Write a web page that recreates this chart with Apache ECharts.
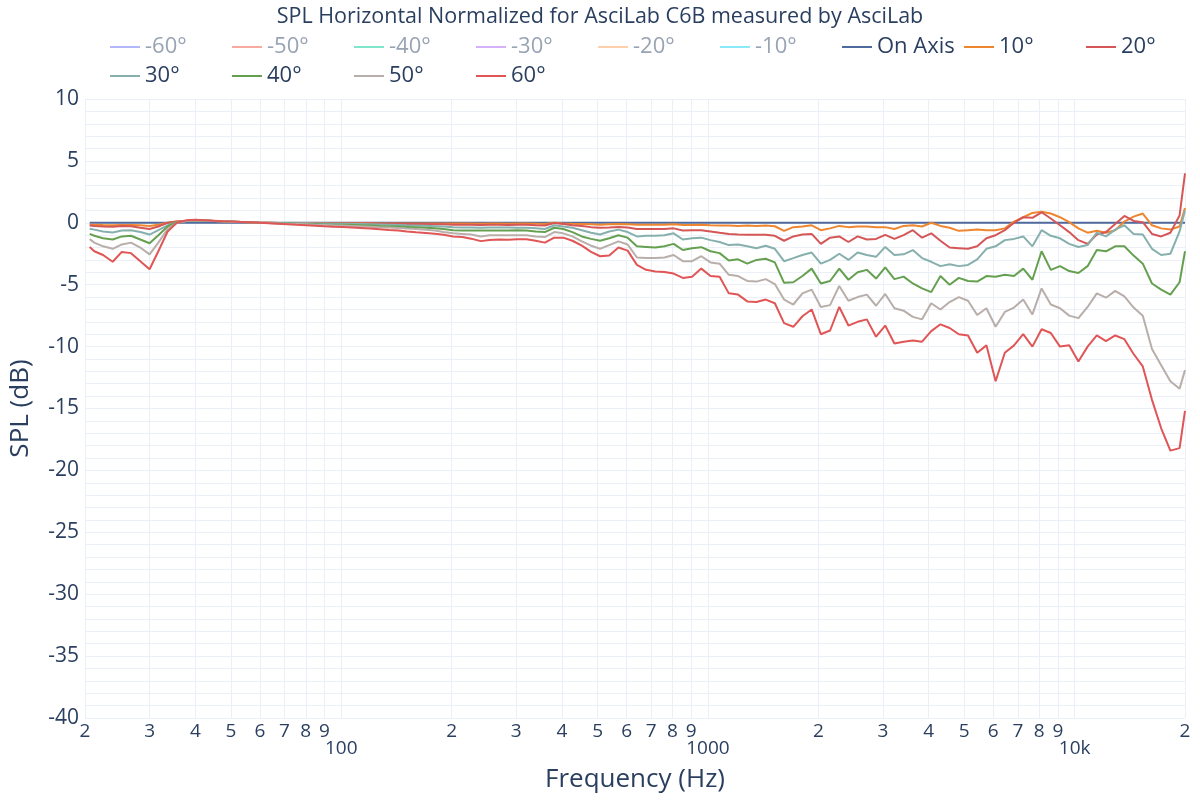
<!DOCTYPE html>
<html><head><meta charset="utf-8">
<script src="https://cdn.jsdelivr.net/npm/echarts@6/dist/echarts.min.js"></script>
<style>html,body{margin:0;padding:0;background:#fff}#c{width:1200px;height:800px}</style>
</head><body><div id="c"></div>
<script>
const freqs = [20.6, 21.2, 22.4, 23.8, 25.2, 26.7, 28.3, 30.0, 31.7, 33.6,
  35.6, 37.8, 40.0, 42.4, 44.9, 47.6, 50.4, 53.4, 56.6, 59.9,
  63.5, 67.3, 71.3, 75.5, 80.0, 84.8, 89.8, 95.1, 101, 107,
  113, 120, 127, 135, 143, 151, 160, 170, 180, 190,
  202, 214, 226, 240, 254, 269, 285, 302, 320, 339,
  359, 381, 403, 427, 453, 480, 508, 538, 570, 604,
  640, 678, 719, 761, 806, 854, 905, 959, 1016, 1076,
  1140, 1208, 1280, 1356, 1437, 1522, 1613, 1709, 1810, 1918,
  2032, 2153, 2281, 2416, 2560, 2712, 2874, 3044, 3225, 3417,
  3620, 3836, 4064, 4305, 4561, 4833, 5120, 5424, 5747, 6089,
  6451, 6834, 7241, 7671, 8127, 8611, 9123, 9665, 10240, 10849,
  11494, 12177, 12902, 13669, 14482, 15343, 16255, 17222, 18246, 19331,
  20000];

const splOnAxis = [0,0,0,0,0,0,0,0,0,0, 0,0,0,0,0,0,0,0,0,0, 0,0,0,0,0,0,0,0,0,0,
  0,0,0,0,0,0,0,0,0,0, 0,0,0,0,0,0,0,0,0,0, 0,0,0,0,0,0,0,0,0,0,
  0,0,0,0,0,0,0,0,0,0, 0,0,0,0,0,0,0,0,0,0, 0,0,0,0,0,0,0,0,0,0,
  0,0,0,0,0,0,0,0,0,0, 0,0,0,0,0,0,0,0,0,0, 0,0,0,0,0,0,0,0,0,0, 0];

const spl10 = [-0.15, -0.15, -0.18, -0.2, -0.17, -0.17, -0.2, -0.25, -0.15, 0.0,
  0.1, 0.15, 0.2, 0.18, 0.15, 0.12, 0.09, 0.06, 0.04, 0.01,
  0.0, -0.01, -0.01, -0.02, -0.02, -0.03, -0.03, -0.03, -0.04, -0.04,
  -0.04, -0.04, -0.05, -0.05, -0.05, -0.05, -0.05, -0.05, -0.05, -0.05,
  -0.05, -0.06, -0.06, -0.07, -0.06, -0.06, -0.07, -0.06, -0.06, -0.08,
  -0.1, 0.0, -0.05, -0.08, -0.1, -0.12, -0.15, -0.12, -0.1, -0.12,
  -0.15, -0.15, -0.15, -0.15, -0.12, -0.18, -0.18, -0.15, -0.2, -0.22,
  -0.22, -0.25, -0.22, -0.25, -0.22, -0.28, -0.65, -0.35, -0.3, -0.2,
  -0.6, -0.45, -0.25, -0.35, -0.3, -0.3, -0.35, -0.35, -0.5, -0.25,
  -0.2, -0.3, 0.0, -0.25, -0.4, -0.65, -0.6, -0.55, -0.6, -0.6,
  -0.45, 0.1, 0.45, 0.8, 0.9, 0.75, 0.45, 0.05, -0.45, -0.8,
  -0.65, -0.8, -0.6, 0.1, 0.5, 0.75, -0.2, -0.45, -0.55, -0.3,
  1.2];

const spl20 = [-0.22, -0.25, -0.3, -0.32, -0.25, -0.28, -0.4, -0.5, -0.3, 0.0,
  0.1, 0.15, 0.2, 0.18, 0.15, 0.12, 0.09, 0.06, 0.04, 0.01,
  0.0, -0.01, -0.02, -0.02, -0.03, -0.03, -0.04, -0.04, -0.05, -0.05,
  -0.06, -0.06, -0.07, -0.08, -0.08, -0.09, -0.1, -0.1, -0.11, -0.12,
  -0.15, -0.16, -0.16, -0.18, -0.16, -0.16, -0.17, -0.16, -0.16, -0.2,
  -0.22, -0.02, -0.1, -0.2, -0.25, -0.35, -0.4, -0.38, -0.33, -0.38,
  -0.5, -0.5, -0.5, -0.5, -0.45, -0.62, -0.6, -0.6, -0.7, -0.8,
  -0.9, -0.95, -0.97, -0.97, -0.97, -1.05, -1.45, -1.1, -0.95, -0.9,
  -1.7, -1.2, -1.1, -1.55, -1.1, -1.35, -1.3, -0.97, -1.3, -1.0,
  -0.6, -1.2, -0.85, -1.45, -2.0, -2.05, -2.1, -1.9, -1.25, -1.0,
  -0.6, 0.0, 0.45, 0.4, 0.85, 0.35, -0.2, -0.75, -1.4, -1.7,
  -0.95, -0.75, -0.1, 0.55, 0.15, 0.05, -0.9, -1.1, -0.8, 0.6,
  4.0];

const spl30 = [-0.48, -0.55, -0.7, -0.78, -0.62, -0.6, -0.75, -0.95, -0.6, -0.2,
  0.05, 0.15, 0.2, 0.18, 0.15, 0.12, 0.09, 0.06, 0.04, 0.01,
  0.0, -0.01, -0.02, -0.03, -0.04, -0.05, -0.06, -0.07, -0.08, -0.09,
  -0.1, -0.11, -0.13, -0.15, -0.17, -0.19, -0.21, -0.24, -0.27, -0.3,
  -0.35, -0.38, -0.38, -0.4, -0.38, -0.38, -0.38, -0.4, -0.4, -0.45,
  -0.5, -0.2, -0.3, -0.4, -0.6, -0.8, -0.95, -0.7, -0.55, -0.75,
  -1.1, -1.05, -1.05, -1.0, -0.85, -1.35, -1.25, -1.2, -1.4, -1.55,
  -1.8, -1.75, -1.9, -2.05, -1.85, -2.1, -3.1, -2.85, -2.6, -2.4,
  -3.3, -3.0, -2.5, -3.0, -2.4, -2.6, -2.75, -1.95, -2.6, -2.55,
  -2.2, -2.85, -3.15, -3.5, -3.35, -3.5, -3.4, -2.95, -2.1, -1.9,
  -1.4, -1.3, -1.1, -1.9, -0.6, -1.05, -1.25, -1.7, -1.95, -1.8,
  -0.8, -1.1, -0.55, -0.2, -0.9, -0.95, -2.1, -2.6, -2.5, -0.7,
  1.0];

const spl40 = [-0.9, -1.05, -1.25, -1.35, -1.1, -1.05, -1.35, -1.65, -1.0, -0.3,
  0.05, 0.15, 0.2, 0.18, 0.15, 0.12, 0.09, 0.06, 0.04, 0.01,
  -0.01, -0.03, -0.05, -0.07, -0.09, -0.11, -0.13, -0.15, -0.16, -0.18,
  -0.2, -0.22, -0.25, -0.27, -0.3, -0.33, -0.36, -0.4, -0.44, -0.5,
  -0.6, -0.62, -0.62, -0.62, -0.62, -0.62, -0.62, -0.6, -0.62, -0.7,
  -0.75, -0.4, -0.5, -0.75, -1.1, -1.3, -1.45, -1.25, -1.0, -1.2,
  -1.9, -1.95, -2.0, -1.9, -1.7, -2.2, -2.05, -1.97, -2.3, -2.45,
  -3.05, -2.95, -3.3, -3.0, -2.9, -3.2, -4.85, -4.8, -4.3, -3.7,
  -4.9, -4.7, -3.7, -4.6, -4.0, -3.8, -4.5, -3.6, -4.55, -4.35,
  -4.9, -5.3, -5.6, -4.3, -5.0, -4.45, -4.7, -4.75, -4.3, -4.35,
  -4.2, -4.3, -3.7, -4.6, -2.3, -3.8, -3.5, -3.9, -4.05, -3.5,
  -2.2, -2.3, -1.9, -1.9, -2.65, -3.3, -4.9, -5.4, -5.8, -4.8,
  -2.3];

const spl50 = [-1.32, -1.6, -1.9, -2.1, -1.75, -1.6, -2.0, -2.55, -1.6, -0.5,
  0.0, 0.15, 0.2, 0.18, 0.15, 0.12, 0.09, 0.06, 0.04, 0.01,
  -0.02, -0.05, -0.08, -0.1, -0.12, -0.15, -0.17, -0.2, -0.22, -0.25,
  -0.28, -0.31, -0.35, -0.38, -0.42, -0.46, -0.5, -0.56, -0.63, -0.75,
  -0.85, -0.9, -0.95, -1.1, -1.0, -1.0, -1.0, -1.0, -1.0, -1.1,
  -1.15, -0.75, -0.85, -1.1, -1.5, -1.85, -2.1, -1.8, -1.5, -1.75,
  -2.8, -2.85, -2.85, -2.8, -2.6, -3.1, -3.1, -2.7, -3.2, -3.3,
  -4.2, -4.3, -4.7, -4.75, -4.55, -4.95, -6.2, -6.6, -5.7, -5.4,
  -6.8, -6.65, -5.1, -6.3, -6.0, -5.8, -6.7, -5.75, -6.9, -7.1,
  -7.6, -7.8, -6.5, -7.0, -6.4, -6.0, -6.3, -7.45, -6.9, -8.4,
  -7.2, -6.85, -6.2, -7.4, -5.3, -6.6, -6.9, -7.5, -7.7, -6.8,
  -5.7, -6.05, -5.5, -5.95, -6.85, -7.5, -10.2, -11.5, -12.8, -13.4,
  -11.9];

const spl60 = [-1.96, -2.3, -2.6, -3.15, -2.35, -2.45, -3.1, -3.75, -2.3, -0.7,
  0.0, 0.2, 0.24, 0.2, 0.17, 0.13, 0.1, 0.07, 0.04, 0.0,
  -0.03, -0.07, -0.11, -0.16, -0.2, -0.24, -0.28, -0.31, -0.34, -0.38,
  -0.42, -0.47, -0.52, -0.58, -0.63, -0.7, -0.76, -0.82, -0.88, -0.97,
  -1.1, -1.15, -1.28, -1.48, -1.38, -1.34, -1.37, -1.32, -1.32, -1.45,
  -1.6, -1.2, -1.2, -1.45, -1.85, -2.35, -2.7, -2.65, -2.0, -2.25,
  -3.4, -3.8, -3.93, -3.97, -4.1, -4.45, -4.35, -3.7, -4.3, -4.35,
  -5.7, -5.8, -6.35, -6.4, -6.2, -6.5, -8.1, -8.4, -7.55, -7.0,
  -9.0, -8.7, -6.8, -8.3, -8.0, -7.8, -9.2, -8.3, -9.75, -9.6,
  -9.5, -9.6, -8.75, -8.2, -8.5, -9.0, -9.1, -10.5, -9.9, -12.8,
  -10.5, -9.9, -9.0, -10.0, -8.6, -8.9, -10.0, -9.9, -11.2, -10.0,
  -9.1, -9.55, -9.1, -9.4, -10.6, -11.6, -14.3, -16.6, -18.4, -18.2,
  -15.2];

const hiddenNames = ['-60°', '-50°', '-40°', '-30°', '-20°', '-10°'];
const hiddenColors = ['#b3b7fc', '#f7aa9d', '#80e5cb', '#d5b1fc', '#ffd0ac', '#8ce9f9'];
const shownNames = ['On Axis', '10°', '20°', '30°', '40°', '50°', '60°'];
const shownColors = ['#4f6a9c', '#ee8630', '#d55656', '#86b0ad', '#64a04f', '#b8aeaa', '#e05555'];
const shownValues = [splOnAxis, spl10, spl20, spl30, spl40, spl50, spl60];

const xTickValues = [20, 30, 40, 50, 60, 70, 80, 90, 100, 200, 300, 400, 500, 600, 700, 800, 900,
  1000, 2000, 3000, 4000, 5000, 6000, 7000, 8000, 9000, 10000, 20000];
const yTickLabels = [-40, -35, -30, -25, -20, -15, -10, -5, 0, 5, 10];

const FONT = 'Open Sans';
const TXT = '#2a3f5f';
const GRID = '#ebf0f8';

const series = [];
hiddenNames.forEach((n, i) => series.push({
  name: n, type: 'line', data: [], showSymbol: false,
  itemStyle: {color: hiddenColors[i]}, lineStyle: {color: hiddenColors[i], width: 2}
}));
shownNames.forEach((n, i) => series.push({
  name: n, type: 'line', showSymbol: false, symbol: 'none',
  data: freqs.map((f, j) => [Math.log10(f), shownValues[i][j]]),
  itemStyle: {color: shownColors[i]}, lineStyle: {color: shownColors[i], width: 2},
  emphasis: {disabled: true}
}));

const legendData = hiddenNames.map(n => ({name: n, textStyle: {color: '#98a3b3'}}))
  .concat(shownNames.map(n => n === '20°' ? {name: n, textStyle: {width: 40}} : {name: n}));

function xLabel(v) {
  const f = Math.round(Math.pow(10, v));
  if (f === 100) return '\n100';
  if (f === 1000) return '\n1000';
  if (f === 10000) return '\n10k';
  const p = Math.pow(10, Math.floor(Math.log10(f) + 1e-9));
  return String(Math.round(f / p));
}

const chart = echarts.init(document.getElementById('c'), null, {renderer: 'canvas'});
chart.setOption({
  animation: false,
  backgroundColor: '#fff',
  textStyle: {fontFamily: FONT},
  title: {
    text: 'SPL Horizontal Normalized for AsciLab C6B measured by AsciLab',
    left: 'center', top: 1,
    textStyle: {fontFamily: FONT, fontSize: 21.5, fontWeight: 'normal', color: TXT}
  },
  legend: {
    left: 105, top: 31, width: 1075,
    icon: 'rect', itemWidth: 30, itemHeight: 2, itemGap: 7,
    textStyle: {fontFamily: FONT, fontSize: 22, color: TXT, width: 80, lineHeight: 22},
    data: legendData
  },
  grid: {left: 80, right: 15, top: 99, bottom: 82, containLabel: false},
  xAxis: {
    type: 'value', min: Math.log10(20), max: Math.log10(20000),
    name: 'Frequency (Hz)', nameLocation: 'middle', nameGap: 49,
    nameTextStyle: {fontFamily: FONT, fontSize: 26, color: TXT},
    axisLine: {show: false},
    axisTick: {show: false, customValues: xTickValues.map(v => Math.log10(v))},
    axisLabel: {customValues: xTickValues.map(v => Math.log10(v)), formatter: xLabel,
      fontFamily: FONT, fontSize: 19, color: TXT, margin: 5, lineHeight: 17},
    splitLine: {show: true, lineStyle: {color: GRID, width: 1}}
  },
  yAxis: {
    type: 'value', min: -40, max: 10, interval: 1,
    name: 'SPL (dB)', nameLocation: 'middle', nameGap: 51, nameRotate: 90,
    nameTextStyle: {fontFamily: FONT, fontSize: 26, color: TXT},
    axisLine: {show: false}, axisTick: {show: false},
    axisLabel: {customValues: yTickLabels, fontFamily: FONT, fontSize: 21, color: TXT, margin: 6},
    splitLine: {show: true, lineStyle: {color: GRID, width: 1}}
  },
  series: series
});
</script></body></html>
